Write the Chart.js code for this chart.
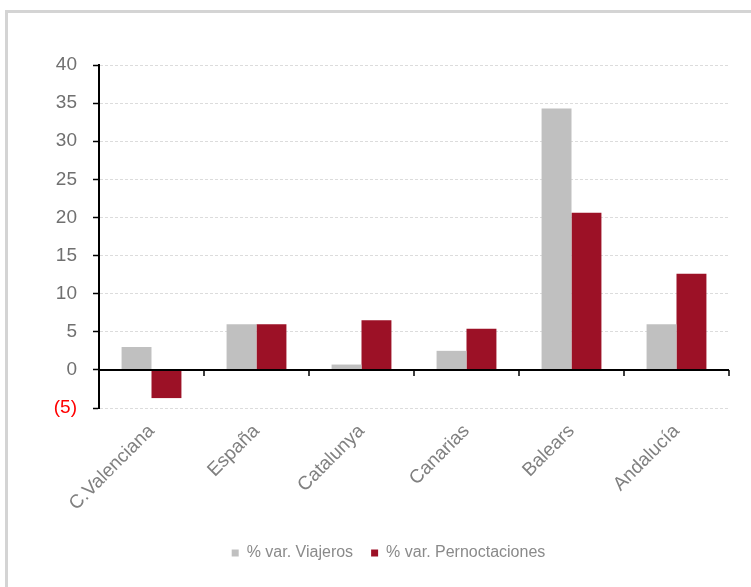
<!DOCTYPE html>
<html>
<head>
<meta charset="utf-8">
<script src="https://cdn.jsdelivr.net/npm/chart.js@4.4.0/dist/chart.umd.min.js"></script>
<style>
  html, body { margin: 0; padding: 0; background: #fff; overflow: hidden; }
  #frame { position: absolute; left: 5px; top: 10px; width: 800px; height: 600px;
           border-left: 3px solid #d4d4d4; border-top: 3px solid #d4d4d4; }
  #wrap { position: absolute; left: 0; top: 0; width: 751px; height: 587px; }
</style>
</head>
<body>
<div id="frame"></div>
<div id="wrap"><canvas id="chart"></canvas></div>
<script>
var regiones = ['C.Valenciana', 'España', 'Catalunya', 'Canarias', 'Balears', 'Andalucía'];
var viajeros = [3.0, 6.0, 0.7, 2.5, 34.3, 6.0];
var pernoctaciones = [-3.7, 6.0, 6.5, 5.4, 20.6, 12.6];
var yTicks = [-5, 0, 5, 10, 15, 20, 25, 30, 35, 40];

// black zero line with small category marks hanging below it
var zeroLine = {
    id: 'zeroLine',
    afterDatasetsDraw: function(chart) {
        var ctx = chart.ctx;
        var x = chart.scales.x;
        var y = chart.scales.y;
        var y0 = Math.round(y.getPixelForValue(0));
        var area = chart.chartArea;
        ctx.save();
        ctx.strokeStyle = '#000';
        ctx.lineWidth = 2;
        ctx.beginPath();
        ctx.moveTo(area.left, y0);
        ctx.lineTo(area.right, y0);
        ctx.stroke();
        ctx.lineWidth = 1.5;
        for (var i = 0; i < regiones.length; i++) {
            var bx = i < regiones.length - 1
                ? (x.getPixelForValue(i) + x.getPixelForValue(i + 1)) / 2
                : area.right;
            ctx.beginPath();
            ctx.moveTo(bx, y0);
            ctx.lineTo(bx, y0 + 6);
            ctx.stroke();
        }
        ctx.restore();
    }
};

var ctx = document.getElementById('chart').getContext('2d');
var chart = new Chart(ctx, {
    type: 'bar',
    data: {
        labels: regiones,
        datasets: [{
            label: '% var. Viajeros',
            data: viajeros,
            backgroundColor: '#c0c0c0',
            categoryPercentage: 0.57,
            barPercentage: 1.0
        }, {
            label: '% var. Pernoctaciones',
            data: pernoctaciones,
            backgroundColor: '#9c1126',
            categoryPercentage: 0.57,
            barPercentage: 1.0
        }]
    },
    options: {
        responsive: true,
        maintainAspectRatio: false,
        animation: false,
        layout: { padding: { left: 48, right: 22, top: 65, bottom: 16 } },
        plugins: {
            tooltip: { enabled: false },
            legend: {
                position: 'bottom',
                labels: {
                    boxWidth: 7,
                    boxHeight: 7,
                    padding: 18,
                    color: '#8a8a8a',
                    font: { family: 'Liberation Sans, Arial', size: 16 }
                }
            }
        },
        scales: {
            x: {
                grid: { display: false },
                border: { display: false },
                ticks: {
                    minRotation: 45,
                    maxRotation: 45,
                    padding: 4,
                    color: '#808080',
                    font: { family: 'Liberation Sans, Arial', size: 19 }
                },
                afterFit: function(scale) { scale.height = 119; }
            },
            y: {
                min: -5,
                max: 40,
                afterBuildTicks: function(scale) {
                    scale.ticks = yTicks.map(function(v) { return { value: v }; });
                },
                grid: {
                    color: '#dcdcdc',
                    lineWidth: 1,
                    tickColor: '#000',
                    tickLength: 6,
                    tickWidth: 1.5
                },
                border: { display: true, color: '#000', width: 2, dash: [3, 2] },
                ticks: {
                    padding: 16,
                    color: function(c) { return c.tick && c.tick.value < 0 ? '#ff0000' : '#707070'; },
                    font: { family: 'Liberation Sans, Arial', size: 19 },
                    callback: function(v) { return v < 0 ? '(' + Math.abs(v) + ')' : v; }
                },
                afterFit: function(scale) { scale.width = 51; }
            }
        }
    },
    plugins: [zeroLine]
});
</script>
</body>
</html>
